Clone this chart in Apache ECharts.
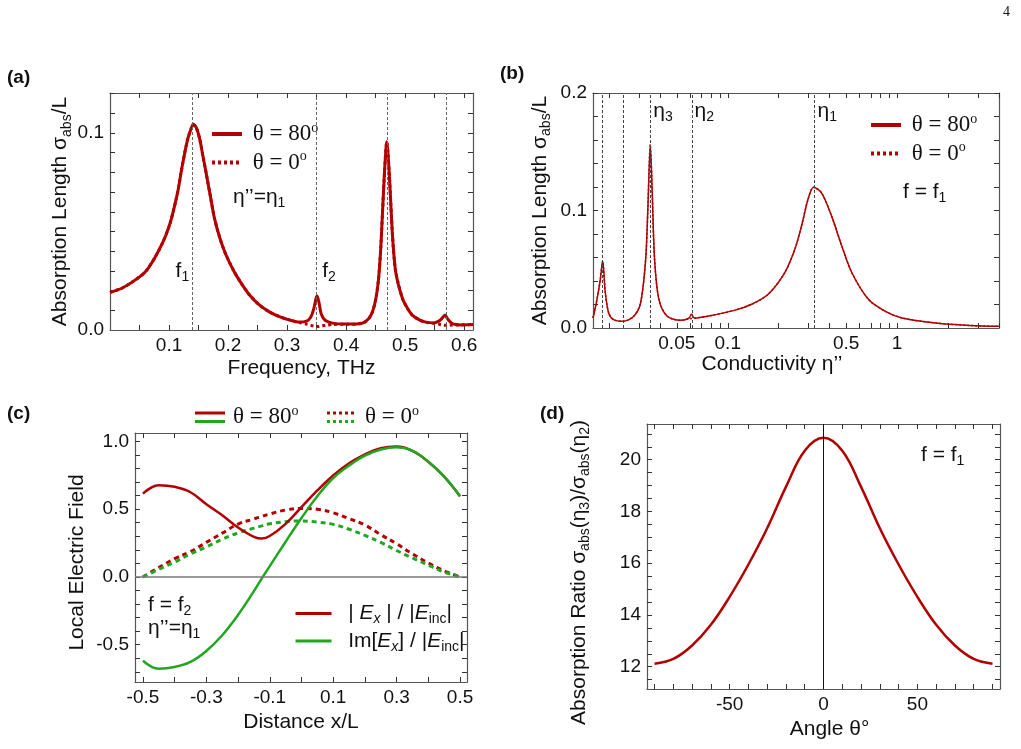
<!DOCTYPE html>
<html>
<head>
<meta charset="utf-8">
<title>Absorption length</title>
<script src="https://cdn.jsdelivr.net/npm/echarts@6/dist/echarts.min.js"></script>
<style>
html, body {margin: 0; padding: 0; background: #fff;}
#main {width: 1021px; height: 749px;}
</style>
</head>
<body>
<div id="main"></div>
<script>
// (a) absorption length vs frequency
var freqA = [0, 0.02, 0.04, 0.06, 0.075, 0.09, 0.1, 0.107, 0.115, 0.121, 0.127, 0.132, 0.137, 0.141, 0.146,
    0.152, 0.157, 0.163, 0.17, 0.177, 0.187, 0.197, 0.21, 0.22, 0.235, 0.253, 0.27, 0.287, 0.305, 0.321,
    0.333, 0.34, 0.345, 0.349, 0.351, 0.354, 0.358, 0.365, 0.377, 0.395, 0.417, 0.43, 0.439, 0.445, 0.4505,
    0.455, 0.459, 0.4645, 0.469, 0.473, 0.4786, 0.484, 0.4955, 0.505, 0.512, 0.525, 0.535, 0.548, 0.557,
    0.562, 0.5676, 0.572, 0.58, 0.595, 0.615];
var absA80 = [0.0191, 0.0212, 0.0248, 0.0296, 0.0362, 0.0448, 0.0525, 0.060, 0.0705, 0.081, 0.0905, 0.0973, 0.1018, 0.1045, 0.1028,
    0.097, 0.089, 0.0795, 0.068, 0.0567, 0.0458, 0.0378, 0.0298, 0.0248, 0.0183, 0.0127, 0.0092, 0.0068, 0.0050, 0.0040,
    0.0045, 0.0065, 0.0105, 0.0160, 0.0173, 0.0140, 0.0080, 0.0048, 0.0035, 0.0030, 0.0030, 0.0038, 0.0060, 0.0095, 0.0160,
    0.0260, 0.0430, 0.0770, 0.0956, 0.0800, 0.0480, 0.0296, 0.0160, 0.0105, 0.0076, 0.0050, 0.0040, 0.0036, 0.0045,
    0.0058, 0.0076, 0.0056, 0.0032, 0.0026, 0.0028];
var absA0 = [0.0191, 0.0212, 0.0248, 0.0296, 0.0362, 0.0448, 0.0525, 0.060, 0.0705, 0.081, 0.0905, 0.0973, 0.1018, 0.1045, 0.1028,
    0.097, 0.089, 0.0795, 0.068, 0.0567, 0.0458, 0.0378, 0.0298, 0.0248, 0.0183, 0.0127, 0.0092, 0.0068, 0.0050, 0.0038,
    0.0030, 0.0024, 0.0020, 0.0018, 0.0018, 0.0018, 0.0020, 0.0024, 0.0028, 0.0029, 0.0030, 0.0038, 0.0060, 0.0095, 0.0160,
    0.0260, 0.0430, 0.0770, 0.0956, 0.0800, 0.0480, 0.0296, 0.0160, 0.0105, 0.0076, 0.0050, 0.0040, 0.0034, 0.0030,
    0.0026, 0.0024, 0.0024, 0.0025, 0.0026, 0.0028];
var linesA = [0.141, 0.351, 0.47, 0.5676];

// (b) absorption length vs conductivity (log axis)
var etaB = [0.0160, 0.01687, 0.01766, 0.01824, 0.01892, 0.01982, 0.02118, 0.02410, 0.02786, 0.03055, 0.03273,
    0.03373, 0.03487, 0.03581, 0.03698, 0.03926, 0.04395, 0.05272, 0.05916, 0.06109, 0.06339, 0.07603, 0.1094,
    0.1374, 0.1726, 0.2168, 0.2489, 0.2729, 0.2985, 0.3214, 0.3581, 0.4111, 0.4710, 0.5408, 0.6792, 0.8531,
    1.072, 1.690, 2.667, 4.0];
var absB80 = [0.0085, 0.024, 0.041, 0.057, 0.030, 0.0126, 0.0071, 0.0057, 0.0100, 0.0213, 0.058,
    0.101, 0.156, 0.115, 0.058, 0.024, 0.0100, 0.0065, 0.0085, 0.0120, 0.0085, 0.0100, 0.0150,
    0.0200, 0.0285, 0.047, 0.067, 0.087, 0.110, 0.1197, 0.115, 0.095, 0.070, 0.047, 0.0242, 0.0142,
    0.0085, 0.0043, 0.0022, 0.0014];
var absB0 = [0.0085, 0.024, 0.041, 0.057, 0.030, 0.0126, 0.0071, 0.0057, 0.0100, 0.0213, 0.058,
    0.101, 0.156, 0.115, 0.058, 0.024, 0.0100, 0.0065, 0.0078, 0.0081, 0.0084, 0.0100, 0.0150,
    0.0200, 0.0285, 0.047, 0.067, 0.087, 0.110, 0.1197, 0.115, 0.095, 0.070, 0.047, 0.0242, 0.0142,
    0.0085, 0.0043, 0.0022, 0.0014];
var linesB = [0.0182, 0.0241, 0.0349, 0.0611, 0.321];

// (c) local electric field along the strip
var distC = [-0.5, -0.45, -0.4, -0.35, -0.3, -0.25, -0.2, -0.15, -0.125, -0.1, -0.05, 0, 0.05, 0.1, 0.15, 0.2,
    0.25, 0.3, 0.35, 0.4, 0.45, 0.5];
var absEx80 = [0.615, 0.677, 0.665, 0.625, 0.537, 0.455, 0.365, 0.296, 0.283, 0.302, 0.392, 0.515, 0.638, 0.748,
    0.838, 0.905, 0.950, 0.962, 0.930, 0.850, 0.740, 0.596];
var imEx80 = [-0.618, -0.677, -0.664, -0.627, -0.546, -0.430, -0.280, -0.105, -0.010, 0.080, 0.260, 0.435, 0.595,
    0.730, 0.822, 0.895, 0.940, 0.956, 0.930, 0.850, 0.740, 0.596];
var absEx0 = [0, 0.070, 0.135, 0.187, 0.255, 0.323, 0.390, 0.428, 0.447, 0.465, 0.494, 0.505, 0.500, 0.473,
    0.430, 0.383, 0.312, 0.245, 0.170, 0.103, 0.045, 0];
var imEx0 = [0, 0.056, 0.110, 0.170, 0.222, 0.278, 0.325, 0.360, 0.377, 0.392, 0.408, 0.413, 0.405, 0.388,
    0.352, 0.306, 0.255, 0.195, 0.140, 0.088, 0.036, 0];

// (d) absorption ratio vs angle
var angleD = [-90, -80, -70, -60, -50, -40, -30, -20, -10, 0, 10, 20, 30, 40, 50, 60, 70, 80, 90];
var ratioD = [12.12, 12.3, 12.82, 13.62, 14.7, 15.95, 17.35, 18.95, 20.35, 20.85, 20.35, 18.95, 17.35, 15.95,
    14.7, 13.62, 12.82, 12.3, 12.12];

function range(a, b, step) {
    var out = [];
    for (var v = a; v <= b + step / 1000; v += step) out.push(Math.round(v * 1e6) / 1e6);
    return out;
}
function zip(xs, ys) {
    return xs.map(function (x, i) { return [x, ys[i]]; });
}

// tick and label positions
var ticksXA = range(0.05, 0.6, 0.05);
var labelsXA = [0.1, 0.2, 0.3, 0.4, 0.5, 0.6];
var ticksYA = range(0.01, 0.12, 0.01);
var labelsYA = [0, 0.1];
var ticksXB = [0.02, 0.03, 0.04, 0.05, 0.06, 0.07, 0.08, 0.09, 0.1, 0.2, 0.3, 0.4, 0.5, 0.6, 0.7, 0.8, 0.9, 1, 2, 3, 4];
var labelsXB = [0.05, 0.1, 0.5, 1];
var ticksYB = range(0.02, 0.2, 0.02);
var labelsYB = [0, 0.1, 0.2];
var ticksXC = range(-0.5, 0.5, 0.1);
var labelsXC = [-0.5, -0.3, -0.1, 0.1, 0.3, 0.5];
var ticksYC = range(-0.7, 1.0, 0.1);
var labelsYC = [-0.5, 0, 0.5, 1];
var ticksXD = range(-90, 90, 10);
var labelsXD = [-50, 0, 50];
var ticksYD = range(11.5, 21, 0.5);
var labelsYD = [12, 14, 16, 18, 20];

var RED = '#b20000', GREEN = '#1fa81f', FRAME = '#555', INK = '#111';
var SANS = '"Liberation Sans", Arial, sans-serif';
var SERIF = '"Liberation Serif", "Times New Roman", serif';
var lg = function (v) { return Math.log10(v); };

var RICH = {
    n: {fontFamily: SANS, fontSize: 21, lineHeight: 26},
    i: {fontFamily: SANS, fontSize: 21, lineHeight: 26, fontStyle: 'italic'},
    sub: {fontFamily: SANS, fontSize: 14, lineHeight: 10, verticalAlign: 'bottom'},
    isub: {fontFamily: SANS, fontSize: 14, lineHeight: 10, verticalAlign: 'bottom', fontStyle: 'italic'},
    t: {fontFamily: SERIF, fontSize: 23, lineHeight: 26},
    s: {fontFamily: SERIF, fontSize: 14, lineHeight: 12, verticalAlign: 'top'}
};

// bottom/left axis with labels plus a mirrored top/right axis with ticks only
function axisPair(kind, grid, min, max, ticks, labels, fmt, extra) {
    var common = {
        type: 'value', gridIndex: grid, min: min, max: max,
        splitLine: {show: false},
        axisLine: {onZero: false, lineStyle: {color: FRAME, width: 1.2}},
        axisTick: {inside: true, length: 5, customValues: ticks, lineStyle: {color: '#333', width: 1}}
    };
    var main = Object.assign({}, common, {
        position: kind === 'x' ? 'bottom' : 'left',
        axisLabel: {customValues: labels, formatter: fmt, color: INK, fontFamily: SANS, fontSize: 19, margin: 6},
        nameLocation: 'middle',
        nameTextStyle: {color: INK, fontFamily: SANS, fontSize: 21, rich: RICH}
    }, extra);
    if (extra.namePadding) main.nameTextStyle.padding = extra.namePadding;
    var mirror = Object.assign({}, common, {
        position: kind === 'x' ? 'top' : 'right',
        axisLabel: {show: false}
    });
    return [main, mirror];
}

function fixed1(v) { return v.toFixed(1); }
var sigmaName = '{n|Absorption Length σ}{sub|abs}{n|/L}';

var xAxes = [].concat(
    axisPair('x', 0, 0, 0.615, ticksXA, labelsXA, fixed1, {name: 'Frequency, THz', nameGap: 28, namePadding: [0, 0, 0, 20]}),
    axisPair('x', 1, lg(0.016), lg(4), ticksXB.map(lg), labelsXB.map(lg),
        function (v) { return String(Number(Math.pow(10, v).toPrecision(2))); },
        {name: 'Conductivity η’’', nameGap: 26, namePadding: [0, 48, 0, 0]}),
    axisPair('x', 2, -0.525, 0.522, ticksXC, labelsXC, fixed1, {name: 'Distance x/L', nameGap: 30}),
    axisPair('x', 3, -94, 94, ticksXD, labelsXD, function (v) { return String(Math.round(v)); },
        {name: 'Angle θ°', nameGap: 30, namePadding: [0, 0, 0, 12]})
);
var yAxes = [].concat(
    axisPair('y', 0, 0, 0.1203, ticksYA, labelsYA, fixed1, {name: sigmaName, nameGap: 36}),
    axisPair('y', 1, 0, 0.2, ticksYB, labelsYB, fixed1, {name: sigmaName, nameGap: 40}),
    axisPair('y', 2, -0.775, 1.062, ticksYC, labelsYC, fixed1, {name: 'Local Electric Field', nameGap: 47, namePadding: [0, 10, 0, 0]}),
    axisPair('y', 3, 11.14, 21.38, ticksYD, labelsYD, function (v) { return String(Math.round(v)); },
        {name: '{n|Absorption Ratio σ}{sub|abs}{n|(η}{sub|3}{n|)/σ}{sub|abs}{n|(η}{sub|2}{n|)}', nameGap: 55,
         namePadding: [0, 32, 0, 0]})
);

function refLines(axis, values, color, dash, width) {
    return {
        silent: true, symbol: ['none', 'none'], animation: false, label: {show: false},
        lineStyle: {color: color, type: dash, width: width},
        data: values.map(function (v) { var d = {}; d[axis] = v; return d; })
    };
}

function lineSeries(name, idx, data, color, width, dash, smooth) {
    return {
        name: name, type: 'line', xAxisIndex: idx, yAxisIndex: idx, data: data,
        symbol: 'none', smooth: smooth, animation: false,
        lineStyle: {color: color, width: width, type: dash || 'solid'},
        itemStyle: {color: color}
    };
}

var seriesA0 = lineSeries('θ = 0°', 0, zip(freqA, absA0), RED, 3, [3, 3], 0.25);
var seriesA80 = lineSeries('θ = 80°', 0, zip(freqA, absA80), RED, 3, null, 0.25);
seriesA80.markLine = refLines('xAxis', linesA, '#666', [3, 2], 1);

var etaLog = etaB.map(lg);
var seriesB0 = lineSeries('θ = 0°', 2, zip(etaLog, absB0), RED, 1.5, [2, 2], 0.3);
var seriesB80 = lineSeries('θ = 80°', 2, zip(etaLog, absB80), RED, 1.5, null, 0.3);
seriesB80.markLine = refLines('xAxis', linesB.map(lg), '#444', [3, 2], 1);

var seriesC = [
    lineSeries('|Ex|/|Einc| θ = 0°', 4, zip(distC, absEx0), RED, 3, [5, 4], 0.4),
    lineSeries('Im[Ex]/|Einc| θ = 0°', 4, zip(distC, imEx0), GREEN, 3, [5, 4], 0.4),
    lineSeries('|Ex|/|Einc|', 4, zip(distC, absEx80), RED, 2.5, null, 0.4),
    lineSeries('Im[Ex]/|Einc|', 4, zip(distC, imEx80), GREEN, 2.5, null, 0.4)
];
seriesC[0].markLine = refLines('yAxis', [0], '#777', 'solid', 1.5);

var seriesD = lineSeries('ratio', 6, zip(angleD, ratioD), RED, 2.5, null, 0.4);
seriesD.markLine = refLines('xAxis', [0], '#111', 'solid', 1);

function thetaFmt(name) {
    return name === 'θ = 80°' ? '{t| θ = 80}{s|o}' : '{t| θ = 0}{s|o}';
}
function fieldFmt(name) {
    return name === '|Ex|/|Einc|'
        ? '{n|  | }{i|E}{isub|x}{n| | / |}{i|E}{sub|inc}{n||}'
        : '{n|  Im[}{i|E}{isub|x}{n|] / |}{i|E}{sub|inc}{n||}';
}
function legendBox(left, top, names, fmt, width, lineWidth) {
    return {
        left: left, top: top, orient: 'vertical', data: names, selectedMode: false,
        itemWidth: width, itemHeight: 12, itemGap: 4, padding: 0,
        lineStyle: {width: lineWidth},
        itemStyle: {opacity: 0},
        formatter: fmt,
        textStyle: {color: INK, rich: RICH}
    };
}

var chart = echarts.init(document.getElementById('main'));
chart.setOption({
    backgroundColor: '#fff',
    animation: false,
    grid: [
        {left: 110, top: 93, width: 363, height: 237},
        {left: 593, top: 93, width: 406, height: 235},
        {left: 135, top: 433, width: 332, height: 249},
        {left: 647, top: 424, width: 353, height: 265}
    ],
    xAxis: xAxes,
    yAxis: yAxes,
    legend: [
        legendBox(210, 121, ['θ = 80°', 'θ = 0°'], thetaFmt, 30, 4),
        legendBox(869, 112, ['θ = 80°', 'θ = 0°'], thetaFmt, 30, 4),
        legendBox(294, 603, ['|Ex|/|Einc|', 'Im[Ex]/|Einc|'], fieldFmt, 36, 3)
    ],
    series: [seriesA0, seriesA80, seriesB0, seriesB80].concat(seriesC, [seriesD])
});

// annotations placed from the axis scales
function px(axisIndex, v) { return chart.convertToPixel({xAxisIndex: axisIndex}, v); }
function txt(x, y, text, extra) {
    return {
        type: 'text', x: x, y: y, silent: true,
        style: Object.assign({text: text, rich: RICH, fill: INK, fontFamily: SANS, fontSize: 21,
            align: 'left', verticalAlign: 'middle'}, extra || {})
    };
}
function seg(x1, y1, x2, y2, color, dash) {
    return {type: 'line', silent: true, shape: {x1: x1, y1: y1, x2: x2, y2: y2},
        style: {stroke: color, lineWidth: 3, lineDash: dash || null}};
}
var bold = {fontWeight: 'bold', fontSize: 19};
chart.setOption({
    graphic: [
        txt(1003, 12, '4', {fontFamily: SERIF, fontSize: 14}),
        txt(7, 78, '(a)', bold),
        txt(500, 74, '(b)', bold),
        txt(7, 414, '(c)', bold),
        txt(540, 414, '(d)', bold),
        // (a)
        txt(px(0, linesA[0]) - 4, 271, '{n|f}{sub|1}', {align: 'right'}),
        txt(px(0, linesA[1]) + 5, 271, '{n|f}{sub|2}'),
        txt(233, 197, '{n|η’’=η}{sub|1}'),
        // (b)
        txt(px(2, lg(linesB[2])) + 3, 111, '{n|η}{sub|3}'),
        txt(px(2, lg(linesB[3])) + 3, 111, '{n|η}{sub|2}'),
        txt(px(2, lg(linesB[4])) + 4, 111, '{n|η}{sub|1}'),
        txt(903, 192, '{n|f = f}{sub|1}'),
        // (c)
        seg(195, 413, 225, 413, RED), seg(195, 421.5, 225, 421.5, GREEN),
        txt(233, 417, '{t|θ = 80}{s|o}'),
        seg(327, 413, 357, 413, RED, [3, 3]), seg(327, 421.5, 357, 421.5, GREEN, [3, 3]),
        txt(365, 417, '{t|θ = 0}{s|o}'),
        txt(148, 605, '{n|f = f}{sub|2}'),
        txt(148, 628, '{n|η’’=η}{sub|1}'),
        // (d)
        txt(921, 455, '{n|f = f}{sub|1}')
    ]
});
</script>
</body>
</html>
